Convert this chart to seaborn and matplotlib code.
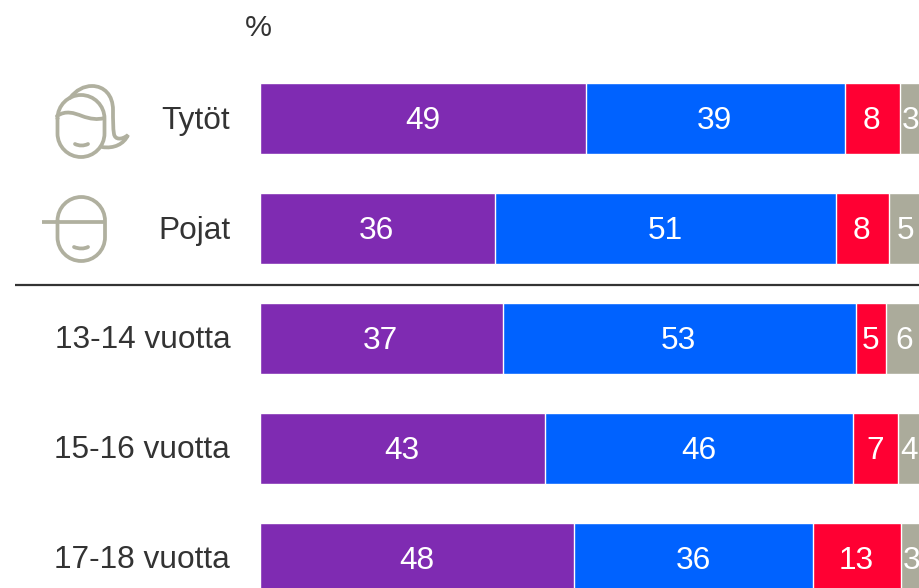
#!/usr/bin/env python
# coding: utf-8

import numpy as np
import pandas as pd
import matplotlib
matplotlib.use("Agg")
import matplotlib.pyplot as plt
import seaborn as sns
from matplotlib.patches import PathPatch
from matplotlib.path import Path
from matplotlib.transforms import Affine2D

# Data
groups = ['Tytöt', 'Pojat', '13-14 vuotta', '15-16 vuotta', '17-18 vuotta']
purple_vals = [49.4, 35.6, 36.8, 43.2, 47.6]
blue_vals = [39.2, 51.7, 53.5, 46.7, 36.2]
red_vals = [8.3, 8.0, 4.5, 6.7, 13.3]
grey_vals = [3.6, 5.2, 5.7, 3.8, 3.4]

purple_labels = [49, 36, 37, 43, 48]
blue_labels = [39, 51, 53, 46, 36]
red_labels = [8, 8, 5, 7, 13]
grey_labels = [3, 5, 6, 4, 3]

colors = ['#7F2BB2', '#0062FF', '#FF0033', '#ABAB9B']
ICON = '#B0B09F'
TEXT = '#333333'

sns.set_style("white")
plt.rcParams['font.family'] = ['Liberation Sans', 'DejaVu Sans']
FS = 22.8

W, H = 920, 588
fig = plt.figure(figsize=(W / 100, H / 100), dpi=100)
ax = fig.add_axes([260 / W, 0, 660 / W, 1])

df = pd.DataFrame({'group': groups, 'a': purple_vals, 'b': blue_vals,
                   'c': red_vals, 'd': grey_vals})
segments = ['a', 'b', 'c', 'd']
labels = [purple_labels, blue_labels, red_labels, grey_labels]
cum = df[segments].cumsum(axis=1)

# Stacked bars: draw the cumulative totals back to front
for i in reversed(range(4)):
    sns.barplot(data=cum.assign(group=df['group']), x=segments[i], y='group',
                order=groups, color=colors[i], saturation=1, width=0.652,
                edgecolor='white', linewidth=1.0, ax=ax)

ax.set_xlim(0, 100)
ax.set_ylim((H - 118.5) / 110, -118.5 / 110)
ax.set_xlabel('')
ax.set_ylabel('')
ax.set_xticks([])
ax.tick_params(axis='y', length=0, pad=21.5, labelsize=FS, labelcolor=TEXT)
sns.despine(ax=ax, left=True, bottom=True)

# Nudge the group names up a little
for t in ax.get_yticklabels():
    t.set_transform(t.get_transform() + Affine2D().translate(0, 1.5))

# Value labels, centred in each segment
starts = np.zeros(len(groups))
for i, seg in enumerate(segments):
    vals = df[seg].to_numpy()
    for j, lab in enumerate(labels[i]):
        ax.text(starts[j] + vals[j] / 2 - 0.1, j - 0.005, str(lab), ha='center',
                va='center_baseline', color='white', fontsize=FS, clip_on=False)
    starts = starts + vals

# Overlay in pixel coordinates for the % sign, divider and icons
ov = fig.add_axes([0, 0, 1, 1], zorder=5)
ov.set_xlim(0, W)
ov.set_ylim(H, 0)
ov.axis('off')
ov.patch.set_alpha(0)

ov.text(258, 25, '%', ha='center', va='center_baseline', fontsize=FS - 1, color=TEXT)
ov.plot([15, 922], [285, 285], color=TEXT, lw=1.6, solid_capstyle='butt')

M, C, L = Path.MOVETO, Path.CURVE4, Path.LINETO


def curve(verts, codes):
    ov.add_patch(PathPatch(Path(verts, codes), fc='none', ec=ICON, lw=2.7,
                           capstyle='round'))


def pill(x0, y0, x1, y1):
    # true round ends, so bezier arcs rather than a FancyBboxPatch
    r = (x1 - x0) / 2
    k = 0.5523 * r
    xm = (x0 + x1) / 2
    verts = [(x0, y0 + r), (x0, y0 + r - k), (xm - k, y0), (xm, y0),
             (xm + k, y0), (x1, y0 + r - k), (x1, y0 + r),
             (x1, y1 - r),
             (x1, y1 - r + k), (xm + k, y1), (xm, y1),
             (xm - k, y1), (x0, y1 - r + k), (x0, y1 - r),
             (x0, y0 + r)]
    codes = [M, C, C, C, C, C, C, L, C, C, C, C, C, C, L]
    curve(verts, codes)


# Girl
pill(57.5, 95, 104.5, 157)
curve([(57, 116), (66, 110), (74, 113), (82, 116), (90, 119), (98, 120), (104, 118)],
      [M, C, C, C, C, C, C])
curve([(70, 98), (76, 90), (84, 86), (92, 86), (104, 86), (113, 95), (113, 110),
       (113, 120), (113, 128), (114, 134), (115, 140), (122, 140), (128, 135),
       (124, 144), (114, 149), (102, 147)],
      [M, C, C, C, C, C, C, C, C, C, C, C, C, C, C, C])
curve([(75, 144), (79, 146), (84, 146), (88, 144)], [M, C, C, C])

# Boy
pill(57.5, 197, 105, 261)
ov.plot([42, 105], [222, 222], color=ICON, lw=2.7, solid_capstyle='butt')
curve([(74, 247), (79, 249), (84, 249), (88, 247)], [M, C, C, C])

plt.savefig('out.png', dpi=100)
plt.close()
